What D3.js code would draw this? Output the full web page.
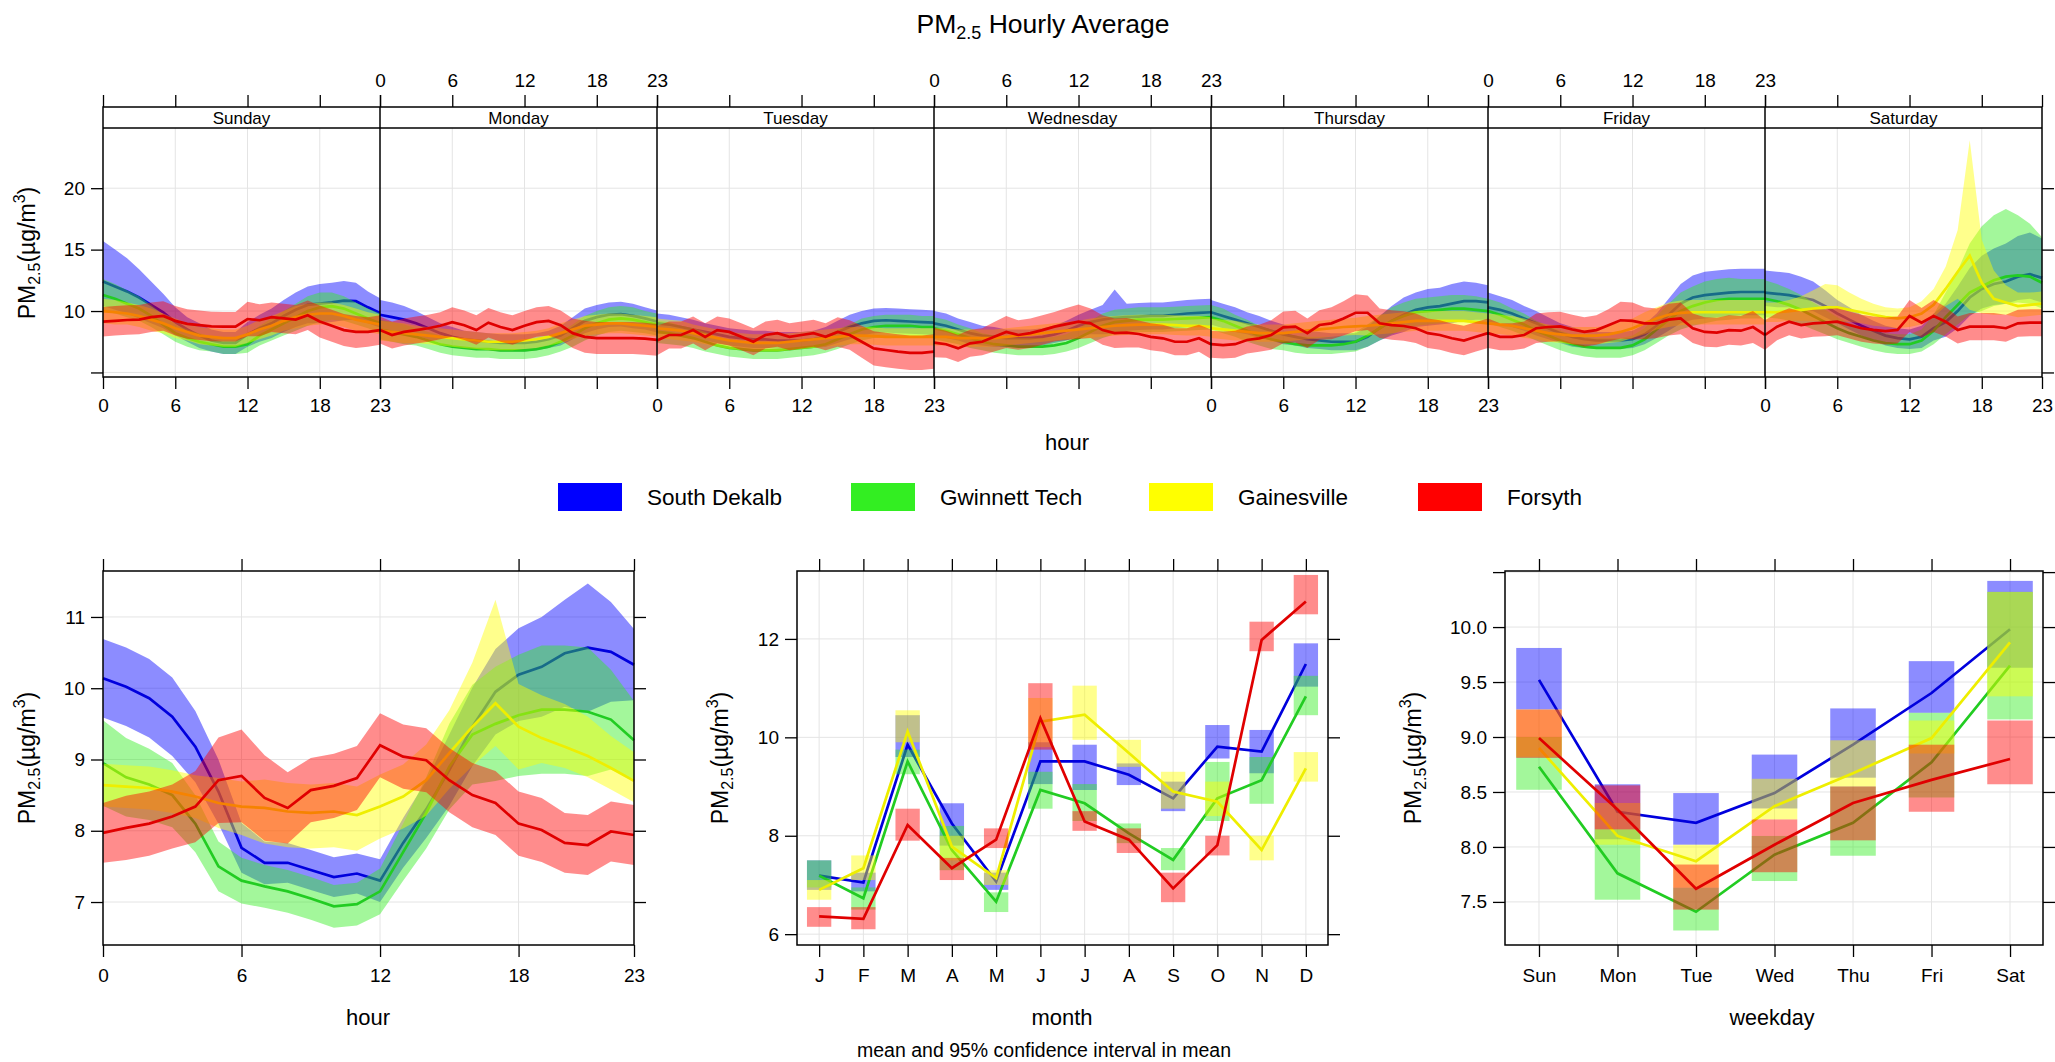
<!DOCTYPE html>
<html><head><meta charset="utf-8">
<script src="https://cdn.jsdelivr.net/npm/d3@7"></script>
<style>
body{margin:0;background:#fff}
svg text{font-family:"Liberation Sans",Arial,sans-serif;fill:#000}
</style></head>
<body><svg id="c" width="2055" height="1062"></svg>
<script>
// ---------------- DATA ----------------
const sites = ["South Dekalb","Gwinnett Tech","Gainesville","Forsyth"];
const fillColors = ["#0000ff","#33ee22","#ffff00","#ff0000"];
const lineColors = ["#0000dd","#22cc22","#eeee00","#e00000"];
const dayNames = ["Sunday","Monday","Tuesday","Wednesday","Thursday","Friday","Saturday"];
const hourTicks = [0,6,12,18,23];
const monthLabels = ["J","F","M","A","M","J","J","A","S","O","N","D"];
const weekdayLabels = ["Sun","Mon","Tue","Wed","Thu","Fri","Sat"];

// hour-of-week means (rows = Sunday..Saturday, 24 hours each)
const sdWeekMean = [
 [12.4,12.0,11.6,11.1,10.5,9.9,9.1,8.5,8.0,7.6,7.4,7.4,8.1,8.6,9.0,9.6,10.1,10.5,10.6,10.7,10.85,10.8,10.3,9.85],
 [9.7,9.5,9.3,9.0,8.6,8.2,7.9,7.7,7.6,7.5,7.4,7.4,7.4,7.5,7.7,8.0,8.6,9.2,9.5,9.7,9.75,9.6,9.4,9.15],
 [9.0,8.9,8.7,8.5,8.3,8.1,7.9,7.8,7.7,7.7,7.6,7.6,7.6,7.7,7.9,8.3,8.7,9.0,9.2,9.25,9.2,9.15,9.1,9.05],
 [9.0,8.8,8.5,8.2,8.0,7.9,7.8,7.8,7.8,7.9,8.1,8.4,8.8,9.1,9.3,9.45,9.5,9.55,9.6,9.6,9.7,9.8,9.85,9.9],
 [9.9,9.6,9.3,9.0,8.7,8.4,8.1,7.9,7.7,7.6,7.5,7.5,7.5,7.9,8.6,9.2,9.7,10.1,10.3,10.4,10.6,10.8,10.8,10.7],
 [10.3,10.1,9.8,9.4,9.0,8.6,8.2,7.9,7.7,7.6,7.6,7.6,7.7,8.1,8.8,9.7,10.6,11.1,11.3,11.4,11.5,11.55,11.55,11.55],
 [11.5,11.4,11.3,11.1,10.9,10.4,9.8,9.3,8.8,8.4,8.0,7.8,7.7,7.9,8.6,9.1,10.0,11.1,11.8,12.2,12.4,12.8,13.0,12.7]];
const gwWeekMean = [
 [11.3,11.0,10.6,10.2,9.6,8.9,8.2,7.8,7.5,7.3,7.1,7.1,7.3,8.0,8.5,9.0,9.5,10.0,10.3,10.4,10.2,9.8,9.4,9.0],
 [8.5,8.3,8.1,7.9,7.6,7.3,7.1,7.0,6.9,6.9,6.8,6.8,6.8,6.9,7.1,7.5,8.0,8.6,9.0,9.3,9.4,9.3,9.1,8.9],
 [8.3,8.2,8.0,7.8,7.5,7.2,7.0,6.9,6.8,6.8,6.8,6.9,7.0,7.1,7.3,7.7,8.1,8.5,8.7,8.8,8.8,8.8,8.7,8.7],
 [8.6,8.4,8.1,7.8,7.5,7.3,7.2,7.1,7.1,7.1,7.2,7.4,7.8,8.3,8.8,9.1,9.2,9.3,9.3,9.3,9.35,9.4,9.45,9.5],
 [9.5,9.2,8.8,8.4,8.0,7.7,7.5,7.3,7.2,7.2,7.2,7.3,7.5,8.0,8.6,9.2,9.6,9.9,10.0,10.1,10.2,10.2,10.1,10.0],
 [10.0,9.7,9.3,8.9,8.4,8.0,7.6,7.3,7.1,7.0,7.0,7.0,7.2,7.7,8.5,9.3,10.0,10.4,10.7,10.9,11.0,11.0,11.0,11.0],
 [11.0,10.8,10.5,10.1,9.6,9.1,8.6,8.2,7.9,7.6,7.4,7.3,7.3,7.6,8.4,9.5,10.5,11.5,12.0,12.5,12.8,12.9,12.8,12.3]];
const gvWeekMean = [
 [10.0,9.9,9.8,9.6,9.3,9.0,8.6,8.3,8.0,7.9,7.8,7.8,8.1,8.5,8.8,9.2,9.5,9.7,9.8,9.8,9.6,9.3,9.1,8.9],
 [8.4,8.3,8.2,8.1,8.0,7.9,7.8,7.7,7.6,7.5,7.5,7.5,7.6,7.7,7.9,8.2,8.5,8.8,8.9,9.0,9.0,8.9,8.8,8.7],
 [8.6,8.5,8.4,8.2,8.0,7.8,7.6,7.5,7.4,7.4,7.4,7.5,7.6,7.7,7.8,7.9,8.0,8.0,7.95,7.9,7.9,7.9,7.9,7.9],
 [7.9,7.9,7.8,7.8,7.8,7.8,7.9,8.0,8.1,8.2,8.3,8.4,8.5,8.6,8.7,8.8,8.85,8.9,8.9,8.9,8.85,8.8,8.8,8.7],
 [8.6,8.5,8.4,8.3,8.2,8.2,8.2,8.3,8.4,8.5,8.6,8.7,8.75,8.8,8.9,9.0,9.1,9.2,9.2,9.2,9.2,9.2,9.1,9.0],
 [9.0,8.9,8.8,8.6,8.4,8.2,8.1,8.0,8.0,8.0,8.1,8.3,8.6,9.0,9.4,9.7,9.85,9.9,9.9,9.9,9.9,9.9,9.9,9.9],
 [9.9,9.9,10.0,10.1,10.2,10.3,10.3,10.1,9.9,9.7,9.5,9.4,9.5,9.8,10.5,11.8,13.2,14.5,12.3,11.0,10.7,10.4,10.5,10.6]];
const foWeekMean = [
 [9.13,9.2,9.27,9.3,9.5,9.6,9.2,8.95,8.85,8.75,8.73,8.73,9.35,9.25,9.5,9.4,9.3,9.65,9.15,8.8,8.45,8.3,8.3,8.45],
 [8.45,8.05,8.3,8.45,8.6,8.8,9.1,8.85,8.45,9.05,8.7,8.45,8.8,9.1,9.2,8.85,8.2,7.9,7.8,7.8,7.8,7.8,7.75,7.65],
 [7.6,8.05,8.05,8.45,7.9,8.45,8.3,7.9,7.5,8.05,8.2,7.9,8.05,8.2,7.9,8.3,8.05,7.5,6.96,6.83,6.7,6.6,6.6,6.7],
 [7.43,7.3,6.96,7.37,7.5,7.9,8.3,8.05,8.2,8.45,8.73,8.94,9.13,9.0,8.45,8.2,8.24,8.13,7.9,7.78,7.5,7.5,7.78,7.3],
 [7.3,7.23,7.3,7.64,7.78,8.05,8.67,8.73,8.2,8.86,9.0,9.4,9.86,9.86,9.0,8.86,8.78,8.6,8.2,8.05,7.78,7.6,7.9,8.2],
 [8.2,7.9,7.9,8.05,8.6,8.7,8.75,8.5,8.3,8.45,8.85,9.25,9.2,9.0,9.0,9.3,9.4,8.6,8.3,8.25,8.45,8.4,8.7,8.05],
 [8.05,8.73,9.13,8.86,9.0,9.05,9.13,8.86,8.6,8.46,8.37,8.46,9.6,9.05,9.6,9.13,8.46,8.73,8.73,8.73,8.6,9.0,9.05,9.05]];

// confidence interval half-widths below (Lo) and above (Hi) the mean
const sdWeekLo = [
 [2.0,1.9,1.8,1.7,1.5,1.3,1.1,1.0,1.0,0.9,0.9,0.9,1.0,1.1,1.2,1.3,1.4,1.5,1.6,1.6,1.6,1.5,1.3,1.2],
 [1.2,1.2,1.1,1.0,0.9,0.8,0.8,0.7,0.7,0.7,0.7,0.7,0.7,0.7,0.7,0.8,0.9,1.0,1.0,1.0,1.0,1.0,0.9,0.9],
 [0.8,0.8,0.8,0.8,0.7,0.7,0.7,0.7,0.7,0.7,0.7,0.7,0.7,0.7,0.8,0.9,1.0,1.0,1.0,1.0,1.0,1.0,1.0,1.0],
 [1.0,1.0,0.9,0.9,0.8,0.8,0.7,0.7,0.7,0.7,0.7,0.8,0.9,1.0,1.2,1.3,1.1,1.1,1.1,1.1,1.1,1.1,1.1,1.1],
 [1.0,1.0,1.0,0.9,0.9,0.8,0.8,0.7,0.7,0.7,0.7,0.7,0.7,0.8,1.0,1.2,1.4,1.4,1.5,1.5,1.6,1.6,1.5,1.4],
 [1.2,1.1,1.1,1.0,1.0,0.9,0.8,0.8,0.7,0.7,0.7,0.7,0.7,0.8,1.0,1.3,1.6,1.8,1.9,1.9,1.9,1.9,1.9,1.9],
 [1.1,1.1,1.0,1.0,0.9,0.9,0.8,0.8,0.8,0.8,0.8,0.8,0.8,0.9,1.0,1.2,1.4,1.5,1.6,1.7,1.8,1.9,2.0,2.0]];
const sdWeekHi = [
 [3.3,3.0,2.7,2.3,1.9,1.5,1.2,1.0,1.0,0.9,0.9,0.9,1.0,1.1,1.2,1.3,1.4,1.5,1.6,1.6,1.6,1.5,1.3,1.2],
 sdWeekLo[1],sdWeekLo[2],
 [1.0,1.0,0.9,0.9,0.8,0.8,0.7,0.7,0.7,0.7,0.7,0.8,0.9,1.0,1.2,2.3,1.1,1.1,1.1,1.1,1.1,1.1,1.1,1.1],
 sdWeekLo[4],sdWeekLo[5],
 [1.8,1.8,1.8,1.7,1.5,1.3,1.1,1.0,0.9,0.8,0.8,0.8,0.8,0.9,1.2,1.5,2.0,2.4,2.7,2.9,3.1,3.3,3.4,3.2]];
const gwWeekLo = [
 [1.3,1.2,1.1,1.0,0.9,0.8,0.7,0.7,0.7,0.6,0.6,0.6,0.7,0.8,0.9,1.0,1.1,1.2,1.2,1.1,1.0,0.9,0.8,0.8],
 [0.8,0.8,0.8,0.7,0.7,0.7,0.7,0.7,0.7,0.7,0.7,0.7,0.7,0.7,0.7,0.8,0.9,1.0,1.0,1.0,1.0,1.0,0.9,0.9],
 [0.9,0.9,0.8,0.8,0.8,0.7,0.7,0.7,0.7,0.7,0.7,0.7,0.7,0.7,0.7,0.8,0.8,0.9,0.9,0.9,0.9,0.9,0.9,0.9],
 [0.9,0.9,0.8,0.8,0.7,0.7,0.7,0.7,0.7,0.7,0.7,0.7,0.8,0.9,1.0,1.0,1.0,1.0,1.0,1.0,1.0,1.0,1.0,1.0],
 [1.0,1.0,0.9,0.9,0.8,0.8,0.7,0.7,0.7,0.7,0.7,0.7,0.8,0.9,1.0,1.1,1.1,1.1,1.1,1.1,1.1,1.1,1.1,1.0],
 [1.0,1.0,0.9,0.9,0.8,0.8,0.8,0.8,0.8,0.8,0.8,0.8,0.8,0.9,1.1,1.3,1.5,1.6,1.7,1.7,1.7,1.6,1.6,1.6],
 [1.5,1.4,1.3,1.2,1.1,1.0,0.9,0.8,0.8,0.8,0.8,0.8,0.8,0.9,1.1,1.4,1.6,1.8,2.0,2.1,2.2,2.2,2.2,2.1]];
const gwWeekHi = [...gwWeekLo.slice(0,6),
 [1.5,1.4,1.3,1.2,1.1,1.0,0.9,0.8,0.8,0.8,0.8,0.8,0.8,0.9,1.3,2.0,2.8,4.0,4.9,5.3,5.5,4.9,4.3,3.7]];
const gvWeekLo = [
 [1.0,1.0,0.9,0.9,0.9,0.8,0.8,0.7,0.7,0.7,0.7,0.7,0.7,0.8,0.8,0.8,0.9,0.9,0.9,0.9,0.9,0.9,0.8,0.8],
 [0.8,0.8,0.8,0.7,0.7,0.7,0.7,0.7,0.7,0.7,0.7,0.7,0.7,0.7,0.7,0.8,0.8,0.8,0.8,0.8,0.8,0.8,0.8,0.8],
 [0.8,0.8,0.8,0.7,0.7,0.7,0.7,0.7,0.7,0.7,0.7,0.7,0.7,0.7,0.7,0.7,0.7,0.7,0.7,0.7,0.7,0.7,0.7,0.7],
 [0.7,0.7,0.7,0.7,0.7,0.7,0.7,0.7,0.7,0.7,0.7,0.7,0.7,0.8,0.8,0.8,0.8,0.8,0.8,0.8,0.8,0.8,0.8,0.8],
 [0.8,0.8,0.8,0.7,0.7,0.7,0.7,0.7,0.7,0.7,0.7,0.7,0.7,0.8,0.8,0.8,0.8,0.8,0.8,0.8,0.8,0.8,0.8,0.8],
 [0.8,0.8,0.8,0.8,0.7,0.7,0.7,0.7,0.7,0.7,0.7,0.8,0.8,0.9,0.9,1.0,1.0,1.0,1.0,1.0,1.0,1.0,1.0,1.0],
 [0.8,0.8,0.8,0.9,1.0,1.1,1.1,1.0,0.9,0.9,0.8,0.8,0.8,0.9,1.0,1.4,2.2,4.4,2.5,1.3,1.0,0.9,0.9,0.9]];
const gvWeekHi = [...gvWeekLo.slice(0,6),
 [0.8,0.8,0.9,1.1,1.5,1.9,1.8,1.4,1.1,0.9,0.8,0.8,0.8,1.0,1.3,1.8,3.4,9.4,3.5,2.3,1.4,1.1,1.0,1.0]];
const foWeekLo = [
 [1.2,1.2,1.2,1.2,1.2,1.2,1.2,1.2,1.2,1.2,1.2,1.2,1.4,1.3,1.2,1.2,1.2,1.2,1.3,1.3,1.3,1.3,1.2,1.2],
 [1.1,1.1,1.1,1.1,1.1,1.1,1.2,1.2,1.2,1.2,1.2,1.2,1.2,1.2,1.2,1.2,1.2,1.3,1.3,1.3,1.3,1.3,1.3,1.3],
 [1.2,1.1,1.1,1.1,1.1,1.1,1.1,1.1,1.1,1.1,1.1,1.1,1.1,1.1,1.1,1.2,1.2,1.3,1.4,1.4,1.4,1.4,1.4,1.4],
 [1.2,1.1,1.1,1.1,1.1,1.2,1.3,1.2,1.2,1.2,1.2,1.3,1.4,1.2,1.2,1.2,1.2,1.1,1.1,1.1,1.1,1.1,1.1,1.2],
 [1.1,1.1,1.1,1.1,1.1,1.2,1.3,1.3,1.2,1.2,1.3,1.4,1.5,1.4,1.2,1.2,1.2,1.2,1.2,1.2,1.2,1.2,1.2,1.2],
 [1.2,1.1,1.1,1.1,1.2,1.2,1.2,1.2,1.2,1.2,1.3,1.5,1.5,1.3,1.2,1.3,1.3,1.2,1.2,1.2,1.2,1.2,1.3,1.2],
 [1.2,1.1,1.1,1.1,1.1,1.1,1.1,1.1,1.1,1.1,1.1,1.1,1.3,1.2,1.3,1.2,1.1,1.1,1.1,1.1,1.1,1.1,1.1,1.1]];
const foWeekHi = foWeekLo;

// diurnal (hour 0..23)
const sdHour = [10.14,10.02,9.86,9.6,9.18,8.55,7.76,7.55,7.55,7.45,7.35,7.4,7.3,7.83,8.3,8.85,9.46,9.95,10.19,10.3,10.49,10.57,10.51,10.33];
const sdHourHalf = [0.55,0.55,0.55,0.55,0.5,0.45,0.35,0.3,0.28,0.28,0.28,0.28,0.3,0.35,0.4,0.5,0.55,0.6,0.65,0.7,0.75,0.9,0.7,0.5];
const gwHour = [8.95,8.75,8.65,8.5,8.1,7.5,7.3,7.22,7.15,7.05,6.94,6.97,7.15,7.7,8.25,8.9,9.35,9.5,9.62,9.7,9.7,9.67,9.56,9.27];
const gwHourHalf = [0.6,0.55,0.5,0.45,0.4,0.35,0.32,0.3,0.3,0.3,0.3,0.3,0.32,0.4,0.5,0.6,0.7,0.8,0.85,0.9,0.9,0.9,0.7,0.55];
const gvHour = [8.64,8.62,8.6,8.55,8.48,8.39,8.34,8.32,8.27,8.25,8.27,8.22,8.34,8.48,8.71,9.09,9.46,9.79,9.46,9.3,9.18,9.05,8.88,8.7];
const gvHourLo = [0.3,0.3,0.3,0.3,0.3,0.35,0.4,0.5,0.5,0.5,0.5,0.5,0.45,0.45,0.5,0.5,0.55,0.6,0.6,0.35,0.3,0.3,0.3,0.3];
const gvHourHi = [0.3,0.3,0.3,0.3,0.3,0.35,0.35,0.4,0.4,0.4,0.4,0.4,0.45,0.45,0.5,0.6,0.9,1.45,0.6,0.6,0.6,0.55,0.45,0.4];
const foHour = [7.97,8.04,8.1,8.2,8.34,8.71,8.77,8.46,8.32,8.57,8.63,8.74,9.2,9.04,8.99,8.71,8.5,8.39,8.1,8.01,7.83,7.8,7.99,7.94];
const foHourHalf = [0.42,0.45,0.45,0.45,0.5,0.6,0.65,0.6,0.5,0.45,0.45,0.45,0.45,0.45,0.45,0.45,0.45,0.45,0.45,0.45,0.42,0.42,0.42,0.42];

// monthly means and CI bounds
const sdMonth = [7.19,7.05,9.85,8.25,7.07,9.51,9.51,9.24,8.76,9.81,9.71,11.49];
const sdMonthLo = [6.9,6.87,9.6,7.8,6.9,9.05,8.93,9.03,8.5,9.57,9.27,11.03];
const sdMonthHi = [7.5,7.25,10.45,8.66,7.25,9.9,9.85,9.47,9.1,10.25,10.15,11.91];
const gwMonth = [7.19,6.73,9.51,7.71,6.66,8.93,8.66,8.05,7.51,8.76,9.13,10.83];
const gwMonthLo = [6.95,6.5,9.25,7.3,6.45,8.55,8.3,7.85,7.3,8.3,8.65,10.45];
const gwMonthHi = [7.5,6.95,9.75,8.2,6.85,9.3,9.05,8.25,7.75,9.5,9.6,11.25];
const gvMonth = [6.9,7.34,10.12,7.78,7.14,10.32,10.46,9.68,8.9,8.69,7.71,9.37];
const gvMonthLo = [6.7,7.1,9.9,7.5,7.0,9.8,9.95,9.4,8.55,8.4,7.5,9.1];
const gvMonthHi = [7.1,7.6,10.55,8.0,7.3,10.8,11.05,9.95,9.3,9.1,8.0,9.7];
const foMonth = [6.36,6.31,8.22,7.34,7.92,10.39,8.29,7.92,6.93,7.81,11.98,12.76];
const foMonthLo = [6.15,6.1,7.9,7.1,7.75,9.75,8.1,7.65,6.65,7.6,11.75,12.5];
const foMonthHi = [6.55,6.55,8.55,7.55,8.15,11.1,8.5,8.15,7.25,8.0,12.35,13.3];

// weekday means and CI bounds
const sdWday = [9.52,8.32,8.22,8.49,8.93,9.4,9.98];
const sdWdayLo = [9.25,8.07,8.02,8.35,8.63,9.22,9.63];
const sdWdayHi = [9.81,8.57,8.49,8.84,9.26,9.69,10.42];
const gwWday = [8.73,7.76,7.41,7.93,8.22,8.77,9.65];
const gwWdayLo = [8.52,7.52,7.24,7.69,7.92,8.45,9.16];
const gwWdayHi = [9.0,8.16,7.63,8.1,8.55,9.22,10.32];
const gvWday = [8.9,8.1,7.87,8.37,8.67,8.99,9.86];
const gvWdayLo = [8.82,8.02,7.63,8.25,8.55,8.85,9.37];
const gvWdayHi = [9.25,8.4,8.02,8.62,8.97,9.15,10.32];
const foWday = [8.99,8.34,7.62,8.02,8.4,8.61,8.8];
const foWdayLo = [8.81,8.16,7.43,7.77,8.06,8.32,8.57];
const foWdayHi = [9.25,8.56,7.84,8.25,8.55,8.93,9.15];

// ---------------- DRAWING ----------------
const svg = d3.select("#c");
const BAND_OP = 0.45, GRID = "#e4e4e4", LW = 2.7, TICKFS = 19;
const weekMean = [sdWeekMean,gwWeekMean,gvWeekMean,foWeekMean];
const weekLo = [sdWeekLo,gwWeekLo,gvWeekLo,foWeekLo];
const weekHi = [sdWeekHi,gwWeekHi,gvWeekHi,foWeekHi];

function styleAxis(g, fs){
  g.select(".domain").remove();
  g.selectAll(".tick line").attr("stroke","#000").attr("stroke-width",1.3);
  g.selectAll(".tick text").attr("font-size",fs).attr("fill","#000")
   .attr("font-family",'"Liberation Sans",Arial,sans-serif');
}
function yTitle(cx, cy){
  const t = svg.append("text").attr("transform",`translate(${cx+8},${cy}) rotate(-90)`)
    .attr("text-anchor","middle").attr("font-size",23);
  t.append("tspan").text("PM");
  t.append("tspan").attr("font-size",16).attr("dy",5).text("2.5");
  t.append("tspan").attr("dy",-5).text("(µg/m");
  t.append("tspan").attr("font-size",16).attr("dy",-10).text("3");
  t.append("tspan").attr("dy",10).text(")");
}

// Title
const title = svg.append("text").attr("x",1043).attr("y",33).attr("text-anchor","middle").attr("font-size",26.5);
title.append("tspan").text("PM");
title.append("tspan").attr("font-size",18).attr("dy",6).text("2.5");
title.append("tspan").attr("dy",-6).text(" Hourly Average");

// ---- Top panel ----
const TL=103, TR=2042, TSTRIP=107, TTOP=128, TBOT=377;
const dw = (TR-TL)/7;
const yTop = d3.scaleLinear().domain([4.63,24.9]).range([TBOT,TTOP]);
const topG = svg.append("g");
[5,10,15,20].forEach(v=>topG.append("line").attr("x1",TL).attr("x2",TR).attr("y1",yTop(v)).attr("y2",yTop(v)).attr("stroke",GRID));
dayNames.forEach((dn,d)=>{
  const xs = d3.scaleLinear().domain([0,23]).range([TL+d*dw, TL+(d+1)*dw]);
  [6,12,18].forEach(h=>topG.append("line").attr("x1",xs(h)).attr("x2",xs(h)).attr("y1",TTOP).attr("y2",TBOT).attr("stroke",GRID));
});
dayNames.forEach((dn,d)=>{
  const xs = d3.scaleLinear().domain([0,23]).range([TL+d*dw, TL+(d+1)*dw]);
  const hrs = d3.range(24);
  sites.forEach((s,i)=>{
    const m = weekMean[i][d], lo = weekLo[i][d], hi = weekHi[i][d];
    topG.append("path").datum(hrs)
      .attr("d", d3.area().x(h=>xs(h)).y0(h=>yTop(m[h]-lo[h])).y1(h=>yTop(m[h]+hi[h])))
      .attr("fill",fillColors[i]).attr("fill-opacity",BAND_OP).attr("stroke","none");
    topG.append("path").datum(hrs)
      .attr("d", d3.line().x(h=>xs(h)).y(h=>yTop(m[h])))
      .attr("fill","none").attr("stroke",lineColors[i]).attr("stroke-width",LW);
  });
  const ta = svg.append("g").attr("transform",`translate(0,${TSTRIP})`)
    .call(d3.axisTop(xs).tickValues(hourTicks).tickSize(12).tickPadding(8).tickFormat(v=> d%2===1 ? v : ""));
  styleAxis(ta,TICKFS);
  const ba = svg.append("g").attr("transform",`translate(0,${TBOT})`)
    .call(d3.axisBottom(xs).tickValues(hourTicks).tickSize(12).tickPadding(10).tickFormat(v=> d%2===0 ? v : ""));
  styleAxis(ba,TICKFS);
  svg.append("text").attr("x",(xs(0)+xs(23))/2).attr("y",124).attr("text-anchor","middle").attr("font-size",17).text(dn);
  if(d>0) svg.append("line").attr("x1",xs(0)).attr("x2",xs(0)).attr("y1",TSTRIP).attr("y2",TBOT).attr("stroke","#000").attr("stroke-width",1.5);
});
styleAxis(svg.append("g").attr("transform",`translate(${TL},0)`)
  .call(d3.axisLeft(yTop).tickValues([5,10,15,20]).tickSize(12).tickPadding(6).tickFormat(v=>v===5?"":v)),TICKFS);
styleAxis(svg.append("g").attr("transform",`translate(${TR},0)`)
  .call(d3.axisRight(yTop).tickValues([5,10,15,20]).tickSize(12).tickFormat("")),TICKFS);
svg.append("rect").attr("x",TL).attr("y",TSTRIP).attr("width",TR-TL).attr("height",TBOT-TSTRIP)
  .attr("fill","none").attr("stroke","#000").attr("stroke-width",1.5);
svg.append("line").attr("x1",TL).attr("x2",TR).attr("y1",TTOP).attr("y2",TTOP).attr("stroke","#000").attr("stroke-width",1.5);
svg.append("text").attr("x",1067).attr("y",450).attr("text-anchor","middle").attr("font-size",22).text("hour");
yTitle(27, 253);

// ---- Legend ----
const legX = [558,851,1149,1418];
sites.forEach((s,i)=>{
  svg.append("rect").attr("x",legX[i]).attr("y",483).attr("width",64).attr("height",28).attr("fill",fillColors[i]);
  svg.append("text").attr("x",legX[i]+89).attr("y",505).attr("font-size",22.5).text(s);
});

// ---- Bottom panels ----
const BT=571, BB=945;
function panelFrame(x0,x1,yScale,yTicks,yLabels,xScale,xTicks,xFmt){
  styleAxis(svg.append("g").attr("transform",`translate(${x0},0)`)
    .call(d3.axisLeft(yScale).tickValues(yTicks).tickSize(12).tickPadding(6).tickFormat(v=>yLabels.includes(v)?d3.format(yTicks.some(t=>t%1)?".1f":"d")(v):"")),TICKFS);
  styleAxis(svg.append("g").attr("transform",`translate(${x1},0)`)
    .call(d3.axisRight(yScale).tickValues(yTicks).tickSize(12).tickFormat("")),TICKFS);
  styleAxis(svg.append("g").attr("transform",`translate(0,${BT})`)
    .call(d3.axisTop(xScale).tickValues(xTicks).tickSize(12).tickFormat("")),TICKFS);
  styleAxis(svg.append("g").attr("transform",`translate(0,${BB})`)
    .call(d3.axisBottom(xScale).tickValues(xTicks).tickSize(12).tickPadding(12).tickFormat(xFmt)),TICKFS);
  svg.append("rect").attr("x",x0).attr("y",BT).attr("width",x1-x0).attr("height",BB-BT)
    .attr("fill","none").attr("stroke","#000").attr("stroke-width",1.5);
}
function grid(x0,x1,yScale,yTicks,xScale,xTicks){
  const g = svg.append("g");
  yTicks.forEach(v=>g.append("line").attr("x1",x0).attr("x2",x1).attr("y1",yScale(v)).attr("y2",yScale(v)).attr("stroke",GRID));
  xTicks.forEach(v=>g.append("line").attr("x1",xScale(v)).attr("x2",xScale(v)).attr("y1",BT).attr("y2",BB).attr("stroke",GRID));
}

// hour panel
{
  const x0=103,x1=634;
  const xs = d3.scaleLinear().domain([0,23]).range([x0,x1]);
  const ys = d3.scaleLinear().domain([6.397,11.645]).range([BB,BT]);
  const yt=[7,8,9,10,11];
  grid(x0,x1,ys,yt,xs,[6,12,18]);
  const means=[sdHour,gwHour,gvHour,foHour];
  const los=[sdHourHalf,gwHourHalf,gvHourLo,foHourHalf];
  const his=[sdHourHalf,gwHourHalf,gvHourHi,foHourHalf];
  const hrs=d3.range(24);
  sites.forEach((s,i)=>{
    svg.append("path").datum(hrs).attr("d",d3.area().x(h=>xs(h)).y0(h=>ys(means[i][h]-los[i][h])).y1(h=>ys(means[i][h]+his[i][h])))
      .attr("fill",fillColors[i]).attr("fill-opacity",BAND_OP);
    svg.append("path").datum(hrs).attr("d",d3.line().x(h=>xs(h)).y(h=>ys(means[i][h])))
      .attr("fill","none").attr("stroke",lineColors[i]).attr("stroke-width",LW);
  });
  panelFrame(x0,x1,ys,yt,yt,xs,hourTicks,d=>d);
  svg.append("text").attr("x",368).attr("y",1025).attr("text-anchor","middle").attr("font-size",22).text("hour");
  yTitle(27,758);
}
// month panel
{
  const x0=797,x1=1328;
  const xs = d3.scaleLinear().domain([0.5,12.5]).range([x0,x1]);
  const ys = d3.scaleLinear().domain([5.78,13.38]).range([BB,BT]);
  const yt=[6,8,10,12];
  const mt=d3.range(1,13);
  grid(x0,x1,ys,yt,xs,mt);
  const means=[sdMonth,gwMonth,gvMonth,foMonth];
  const los=[sdMonthLo,gwMonthLo,gvMonthLo,foMonthLo];
  const his=[sdMonthHi,gwMonthHi,gvMonthHi,foMonthHi];
  const bw = (xs(2)-xs(1))*0.55;
  sites.forEach((s,i)=>{
    svg.append("g").selectAll("rect").data(mt).join("rect")
      .attr("x",m=>xs(m)-bw/2).attr("width",bw)
      .attr("y",m=>ys(his[i][m-1])).attr("height",m=>ys(los[i][m-1])-ys(his[i][m-1]))
      .attr("fill",fillColors[i]).attr("fill-opacity",BAND_OP);
    svg.append("path").datum(mt).attr("d",d3.line().x(m=>xs(m)).y(m=>ys(means[i][m-1])))
      .attr("fill","none").attr("stroke",lineColors[i]).attr("stroke-width",LW);
  });
  panelFrame(x0,x1,ys,yt,yt,xs,mt,m=>monthLabels[m-1]);
  svg.append("text").attr("x",1062).attr("y",1025).attr("text-anchor","middle").attr("font-size",22).text("month");
  svg.append("text").attr("x",1044).attr("y",1057).attr("text-anchor","middle").attr("font-size",19.5).text("mean and 95% confidence interval in mean");
  yTitle(720,758);
}
// weekday panel
{
  const x0=1505,x1=2043;
  const xs = d3.scaleLinear().domain([0.567,7.42]).range([x0,x1]);
  const ys = d3.scaleLinear().domain([7.108,10.51]).range([BB,BT]);
  const yt=[7.5,8.0,8.5,9.0,9.5,10.0,10.5];
  const yl=[7.5,8.0,8.5,9.0,9.5,10.0];
  const wt=d3.range(1,8);
  grid(x0,x1,ys,yt,xs,wt);
  const means=[sdWday,gwWday,gvWday,foWday];
  const los=[sdWdayLo,gwWdayLo,gvWdayLo,foWdayLo];
  const his=[sdWdayHi,gwWdayHi,gvWdayHi,foWdayHi];
  const bw = (xs(2)-xs(1))*0.58;
  sites.forEach((s,i)=>{
    svg.append("g").selectAll("rect").data(wt).join("rect")
      .attr("x",w=>xs(w)-bw/2).attr("width",bw)
      .attr("y",w=>ys(his[i][w-1])).attr("height",w=>ys(los[i][w-1])-ys(his[i][w-1]))
      .attr("fill",fillColors[i]).attr("fill-opacity",BAND_OP);
    svg.append("path").datum(wt).attr("d",d3.line().x(w=>xs(w)).y(w=>ys(means[i][w-1])))
      .attr("fill","none").attr("stroke",lineColors[i]).attr("stroke-width",LW);
  });
  panelFrame(x0,x1,ys,yt,yl,xs,wt,w=>weekdayLabels[w-1]);
  svg.append("text").attr("x",1772).attr("y",1025).attr("text-anchor","middle").attr("font-size",21.5).text("weekday");
  yTitle(1413,758);
}
</script>
</body></html>
